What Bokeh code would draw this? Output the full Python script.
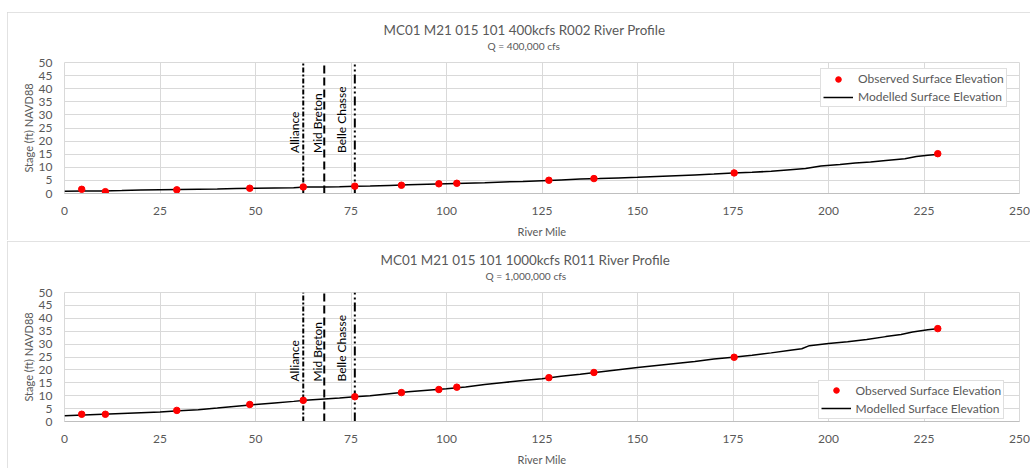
from bokeh.plotting import figure
from bokeh.models import Range1d, FixedTicker, Label, Legend, LegendItem, Title
from bokeh.layouts import column
from bokeh.embed import file_html
from bokeh.resources import INLINE

FONT = "Lato"
GRAY = "#595959"

# ---------------- data ----------------
obs_mile = [4.5, 10.7, 29.4, 48.5, 62.5, 76.0, 88.2, 98.0, 102.7, 126.8, 138.6, 175.3, 228.6]
obs_400 = [1.6, 0.7, 1.4, 2.0, 2.5, 2.8, 3.15, 3.7, 3.9, 5.05, 5.7, 7.85, 15.2]
obs_1000 = [2.8, 2.8, 4.3, 6.6, 8.2, 9.6, 11.2, 12.4, 13.3, 17.0, 19.0, 24.9, 36.0]

mod_mile_400 = [0, 5, 10, 15, 20, 25, 30, 35, 40, 45, 50, 55, 60, 63, 68, 72, 76, 80, 85, 90,
                95, 100, 105, 110, 115, 120, 125, 130, 135, 140, 145, 150, 155, 160, 165, 170,
                175, 180, 185, 190, 194, 198, 203, 207, 211, 215, 220, 223, 226, 229]
mod_400 = [0.9, 1.0, 1.0, 1.1, 1.3, 1.4, 1.5, 1.6, 1.7, 1.9, 2.0, 2.1, 2.2, 2.5, 2.5, 2.6, 2.8, 2.9,
           3.1, 3.3, 3.5, 3.7, 3.9, 4.1, 4.4, 4.6, 4.9, 5.2, 5.5, 5.7, 5.95, 6.2, 6.5, 6.8, 7.1,
           7.4, 7.8, 8.1, 8.5, 9.1, 9.5, 10.5, 11.1, 11.6, 12.0, 12.6, 13.3, 14.1, 14.6, 15.0]

mod_mile_1000 = [0, 5, 10, 15, 20, 25, 30, 35, 40, 45, 50, 55, 60, 63, 68, 72, 76, 80, 85, 90,
                 95, 100, 105, 110, 115, 120, 125, 130, 135, 140, 145, 150, 155, 160, 165, 170,
                 175, 180, 185, 190, 193, 195, 200, 205, 210, 215, 219, 222, 226, 229]
mod_1000 = [2.2, 2.5, 2.8, 3.1, 3.4, 3.7, 4.2, 4.6, 5.2, 5.9, 6.6, 7.2, 7.8, 8.2, 8.7, 9.1, 9.6,
            10.0, 10.8, 11.5, 12.1, 12.7, 13.4, 14.3, 15.1, 15.9, 16.6, 17.5, 18.3, 19.2, 20.1,
            20.9, 21.7, 22.5, 23.3, 24.2, 24.9, 25.7, 26.6, 27.6, 28.2, 29.4, 30.2, 30.9, 31.8,
            32.9, 33.7, 34.7, 35.6, 36.0]

site_names = ["Alliance", "Mid Breton", "Belle Chasse"]
site_mile = [62.5, 68.0, 76.0]
site_dash = ["5 2 2 2", "8 4", "9 3 2 3 2 3"]
site_label_x = [60.3, 66.3, 72.4]

x_ticks = [0, 25, 50, 75, 100, 125, 150, 175, 200, 225, 250]
y_ticks = [0, 5, 10, 15, 20, 25, 30, 35, 40, 45, 50]

titles = ["MC01 M21 015 101 400kcfs R002 River Profile",
          "MC01 M21 015 101 1000kcfs R011 River Profile"]
subtitles = ["Q = 400,000 cfs", "Q = 1,000,000 cfs"]


def make_chart(height, margin, border_top, border_bottom, mod_x, mod_y, obs_y, title, subtitle,
               legend_loc, title_off, sub_off):
    p = figure(width=1023, height=height, output_backend="svg", toolbar_location=None,
               x_range=Range1d(0, 250), y_range=Range1d(0, 50),
               min_border_left=57, min_border_right=11,
               min_border_top=border_top, min_border_bottom=border_bottom)
    p.margin = margin
    p.styles = {"outline": "1px solid #d9d9d9", "outline-offset": "-1px"}
    p.outline_line_color = "#d9d9d9"
    p.background_fill_color = "white"
    p.border_fill_color = "white"

    for ax in (p.xaxis[0], p.yaxis[0]):
        ax.major_tick_line_color = None
        ax.minor_tick_line_color = None
        ax.major_label_text_color = GRAY
        ax.major_label_text_font = FONT
        ax.major_label_text_font_size = "12px"
        ax.axis_label_text_font = FONT
        ax.axis_label_text_font_style = "normal"
        ax.axis_label_text_font_size = "11px"
        ax.axis_label_text_color = GRAY
    p.xaxis.ticker = FixedTicker(ticks=x_ticks)
    p.yaxis.ticker = FixedTicker(ticks=y_ticks)
    p.xaxis.major_label_standoff = 7
    p.yaxis.major_label_standoff = 6
    p.xaxis.axis_line_color = "#bfbfbf"
    p.yaxis.axis_line_color = None
    p.yaxis.axis_label = "Stage (ft) NAVD88"
    p.yaxis.axis_label_standoff = 1
    p.xaxis.axis_label = "River Mile"
    p.xaxis.axis_label_standoff = 7
    p.xgrid.grid_line_color = "#d9d9d9"
    p.ygrid.grid_line_color = "#d9d9d9"

    # vertical site markers
    for name, m, d, lx in zip(site_names, site_mile, site_dash, site_label_x):
        p.line([m, m], [0, 50], line_color="black", line_width=2, line_dash=d)
        p.add_layout(Label(x=lx, y=15.5, text=name, angle=1.5708, text_align="left",
                           text_baseline="alphabetic", text_font=FONT,
                           text_font_size="12px", text_color="black"))

    r_line = p.line(mod_x, mod_y, line_color="black", line_width=1.5)
    r_pts = p.scatter(obs_mile, obs_y, size=6.5, fill_color="red", line_color="red")

    legend = Legend(items=[LegendItem(label="Observed Surface Elevation", renderers=[r_pts]),
                           LegendItem(label="Modelled Surface Elevation", renderers=[r_line])],
                    location=legend_loc, padding=2, spacing=3, glyph_height=14,
                    label_height=14, glyph_width=30, label_standoff=5, margin=0,
                    border_line_color="#bfbfbf", background_fill_alpha=1,
                    label_text_font=FONT, label_text_font_size="12px",
                    label_text_color=GRAY)
    p.add_layout(legend, "center")

    # spacer between the frame and the subtitle
    p.add_layout(Title(text=" ", text_font_size="1px", standoff=8), "above")
    p.add_layout(Title(text=subtitle, align="left", offset=sub_off, standoff=0,
                       text_font=FONT, text_font_size="10.2px", text_font_style="normal",
                       text_color=GRAY), "above")
    p.add_layout(Title(text=title, align="left", offset=title_off, standoff=0,
                       text_font=FONT, text_font_size="13.4px", text_font_style="normal",
                       text_color=GRAY), "above")
    return p


p1 = make_chart(228, (12, 0, 1, 7), 50, 46, mod_mile_400, mod_400, obs_400, titles[0],
                subtitles[0], (756, 85.9), 319, 423)
p2 = make_chart(227, (0, 0, 0, 7), 51, 44, mod_mile_1000, mod_1000, obs_1000, titles[1],
                subtitles[1], (753.6, 2.4), 316, 421)

layout = column(p1, p2, spacing=0)
open("out.html", "w").write(file_html(layout, INLINE))
